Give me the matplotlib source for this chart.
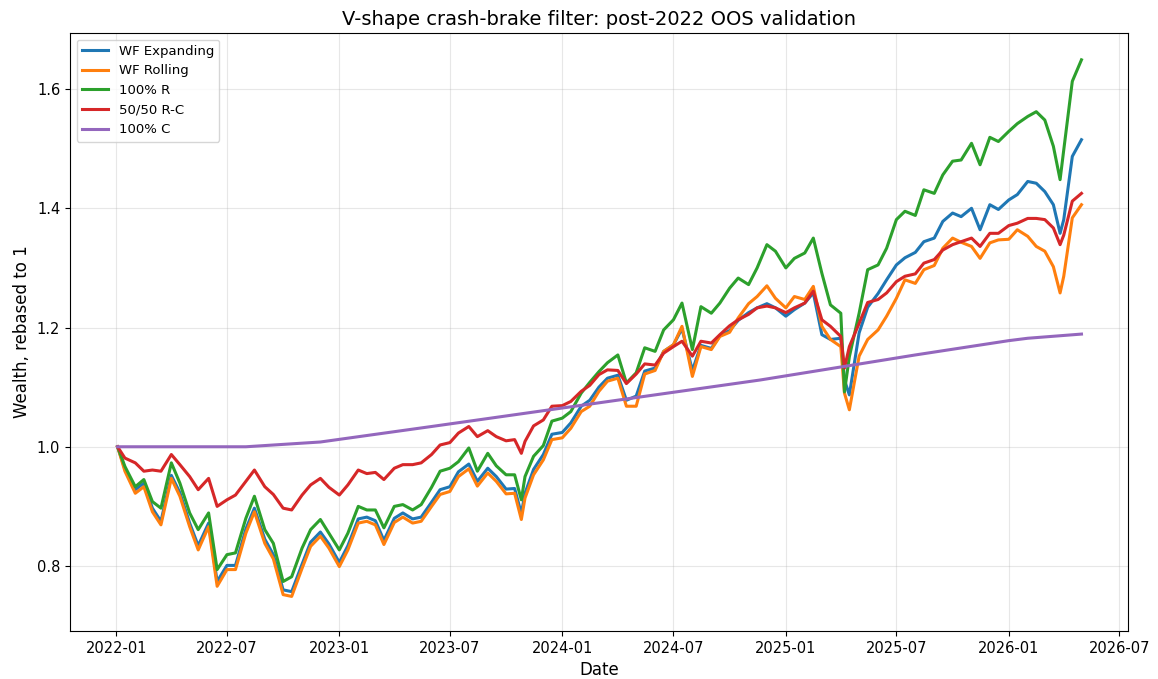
import numpy as np
import pandas as pd
import matplotlib
matplotlib.use('Agg')
import matplotlib.pyplot as plt
import matplotlib.dates as mdates

# Datas (aprox. quinzenais, com alguns pontos extras nos vales)
dates = [
    '2022-01-03', '2022-01-15', '2022-02-01', '2022-02-15', '2022-03-01', '2022-03-15',
    '2022-04-01', '2022-04-15', '2022-05-01', '2022-05-15', '2022-06-01', '2022-06-15',
    '2022-07-01', '2022-07-15', '2022-08-01', '2022-08-15', '2022-09-01', '2022-09-15',
    '2022-10-01', '2022-10-15', '2022-11-01', '2022-11-15', '2022-12-01', '2022-12-15',
    '2023-01-01', '2023-01-15', '2023-02-01', '2023-02-15', '2023-03-01', '2023-03-15',
    '2023-04-01', '2023-04-15', '2023-05-01', '2023-05-15', '2023-06-01', '2023-06-15',
    '2023-07-01', '2023-07-15', '2023-08-01', '2023-08-15', '2023-09-01', '2023-09-15',
    '2023-10-01', '2023-10-15', '2023-10-26', '2023-11-01', '2023-11-15', '2023-12-01',
    '2023-12-15',
    '2024-01-01', '2024-01-15', '2024-02-01', '2024-02-15', '2024-03-01', '2024-03-15',
    '2024-04-01', '2024-04-15', '2024-05-01', '2024-05-15', '2024-06-01', '2024-06-15',
    '2024-07-01', '2024-07-15', '2024-08-01', '2024-08-15', '2024-09-01', '2024-09-15',
    '2024-10-01', '2024-10-15', '2024-11-01', '2024-11-15', '2024-12-01', '2024-12-15',
    '2025-01-01', '2025-01-15', '2025-02-01', '2025-02-15', '2025-03-01', '2025-03-15',
    '2025-04-01', '2025-04-07', '2025-04-15', '2025-05-01', '2025-05-15', '2025-06-01',
    '2025-06-15', '2025-07-01', '2025-07-15', '2025-08-01', '2025-08-15', '2025-09-01',
    '2025-09-15', '2025-10-01', '2025-10-15', '2025-11-01', '2025-11-15', '2025-12-01',
    '2025-12-15',
    '2026-01-01', '2026-01-15', '2026-02-01', '2026-02-15', '2026-03-01', '2026-03-15',
    '2026-03-26', '2026-04-01', '2026-04-15', '2026-04-30',
]

wf_expanding = [
    1.000, 0.963, 0.928, 0.939, 0.897, 0.875, 0.952, 0.923, 0.872, 0.834, 0.872, 0.774,
    0.801, 0.801, 0.862, 0.897, 0.845, 0.819, 0.760, 0.757, 0.803, 0.840, 0.857, 0.837,
    0.806, 0.834, 0.879, 0.882, 0.876, 0.843, 0.880, 0.889, 0.879, 0.882, 0.907, 0.928,
    0.933, 0.958, 0.971, 0.942, 0.964, 0.950, 0.929, 0.930, 0.888, 0.922, 0.962, 0.987,
    1.021,
    1.024, 1.040, 1.068, 1.078, 1.100, 1.115, 1.120, 1.078, 1.085, 1.127, 1.132, 1.160,
    1.171, 1.198, 1.128, 1.170, 1.165, 1.186, 1.195, 1.212, 1.225, 1.233, 1.240, 1.233,
    1.219, 1.230, 1.241, 1.258, 1.188, 1.180, 1.182, 1.112, 1.087, 1.191, 1.234, 1.257,
    1.280, 1.305, 1.317, 1.326, 1.344, 1.350, 1.378, 1.392, 1.386, 1.400, 1.364, 1.406,
    1.398,
    1.414, 1.423, 1.445, 1.442, 1.428, 1.406, 1.358, 1.381, 1.487, 1.515,
]

wf_rolling = [
    1.000, 0.959, 0.922, 0.933, 0.891, 0.869, 0.947, 0.917, 0.866, 0.827, 0.866, 0.766,
    0.794, 0.794, 0.855, 0.891, 0.838, 0.812, 0.752, 0.749, 0.796, 0.833, 0.850, 0.830,
    0.799, 0.827, 0.872, 0.875, 0.869, 0.836, 0.873, 0.882, 0.872, 0.875, 0.900, 0.920,
    0.925, 0.950, 0.963, 0.934, 0.956, 0.942, 0.921, 0.922, 0.878, 0.914, 0.953, 0.978,
    1.012,
    1.015, 1.031, 1.059, 1.068, 1.093, 1.110, 1.115, 1.068, 1.068, 1.122, 1.128, 1.160,
    1.171, 1.202, 1.118, 1.168, 1.163, 1.185, 1.192, 1.216, 1.240, 1.252, 1.270, 1.249,
    1.233, 1.252, 1.247, 1.269, 1.202, 1.180, 1.168, 1.090, 1.062, 1.152, 1.180, 1.196,
    1.219, 1.249, 1.280, 1.274, 1.297, 1.304, 1.333, 1.350, 1.343, 1.336, 1.316, 1.342,
    1.347,
    1.348, 1.364, 1.353, 1.336, 1.328, 1.302, 1.258, 1.286, 1.384, 1.406,
]

r_100 = [
    1.000, 0.967, 0.933, 0.945, 0.908, 0.897, 0.973, 0.939, 0.889, 0.861, 0.889, 0.794,
    0.819, 0.822, 0.880, 0.917, 0.861, 0.838, 0.774, 0.782, 0.830, 0.861, 0.878, 0.855,
    0.827, 0.855, 0.900, 0.894, 0.894, 0.864, 0.900, 0.903, 0.894, 0.903, 0.932, 0.959,
    0.964, 0.975, 0.998, 0.959, 0.989, 0.968, 0.953, 0.953, 0.911, 0.950, 0.984, 1.002,
    1.043,
    1.048, 1.059, 1.090, 1.108, 1.126, 1.141, 1.154, 1.107, 1.124, 1.166, 1.160, 1.196,
    1.213, 1.241, 1.163, 1.235, 1.224, 1.241, 1.266, 1.283, 1.272, 1.300, 1.339, 1.328,
    1.300, 1.316, 1.325, 1.350, 1.291, 1.238, 1.224, 1.092, 1.151, 1.224, 1.297, 1.305,
    1.333, 1.381, 1.395, 1.388, 1.431, 1.425, 1.456, 1.479, 1.481, 1.509, 1.473, 1.519,
    1.512,
    1.529, 1.542, 1.554, 1.562, 1.548, 1.504, 1.448, 1.498, 1.613, 1.649,
]

rc_5050 = [
    1.000, 0.981, 0.973, 0.959, 0.961, 0.959, 0.987, 0.970, 0.950, 0.928, 0.947, 0.900,
    0.911, 0.919, 0.942, 0.961, 0.933, 0.920, 0.897, 0.894, 0.919, 0.936, 0.947, 0.932,
    0.919, 0.936, 0.961, 0.955, 0.957, 0.945, 0.964, 0.970, 0.970, 0.973, 0.987, 1.003,
    1.007, 1.023, 1.034, 1.017, 1.027, 1.017, 1.010, 1.012, 0.989, 1.009, 1.035, 1.045,
    1.068,
    1.069, 1.076, 1.093, 1.103, 1.121, 1.129, 1.128, 1.106, 1.122, 1.139, 1.137, 1.157,
    1.168, 1.177, 1.152, 1.177, 1.174, 1.188, 1.203, 1.213, 1.222, 1.233, 1.236, 1.233,
    1.225, 1.233, 1.241, 1.261, 1.213, 1.202, 1.185, 1.132, 1.168, 1.207, 1.242, 1.247,
    1.258, 1.277, 1.286, 1.290, 1.308, 1.314, 1.330, 1.339, 1.344, 1.350, 1.336, 1.358,
    1.358,
    1.371, 1.375, 1.383, 1.383, 1.381, 1.367, 1.339, 1.355, 1.412, 1.425,
]

# 100% C (quase linear, poucos pontos)
c_dates = ['2022-01-03', '2022-08-01', '2022-12-01', '2023-06-01', '2024-01-01',
           '2024-11-20', '2025-08-01', '2026-01-01', '2026-02-01', '2026-04-30']
c_100 = [1.000, 1.000, 1.008, 1.034, 1.065, 1.112, 1.154, 1.178, 1.182, 1.189]

d = pd.to_datetime(dates)
dc = pd.to_datetime(c_dates)

fig = plt.figure(figsize=(11.58, 6.79), dpi=100)
ax = fig.add_axes([0.0604, 0.0707, 0.9136, 0.8807])

lw = 2.2
ax.plot(d, wf_expanding, color='#1f77b4', lw=lw, label='WF Expanding')
ax.plot(d, wf_rolling, color='#ff7f0e', lw=lw, label='WF Rolling')
ax.plot(d, r_100, color='#2ca02c', lw=lw, label='100% R')
ax.plot(d, rc_5050, color='#d62728', lw=lw, label='50/50 R-C')
ax.plot(dc, c_100, color='#9467bd', lw=lw, label='100% C')

ax.set_xlim(pd.Timestamp('2021-10-17'), pd.Timestamp('2026-07-15'))
ax.set_ylim(0.691, 1.694)
ax.xaxis.set_major_locator(mdates.MonthLocator(bymonth=[1, 7]))
ax.xaxis.set_major_formatter(mdates.DateFormatter('%Y-%m'))
ax.tick_params(labelsize=10.5)
ax.grid(True, alpha=0.3)

ax.set_title('V-shape crash-brake filter: post-2022 OOS validation', fontsize=14)
ax.set_xlabel('Date', fontsize=12)
ax.set_ylabel('Wealth, rebased to 1', fontsize=12)
ax.legend(loc='upper left', fontsize=9.5)

plt.savefig('out.png', dpi=100)
